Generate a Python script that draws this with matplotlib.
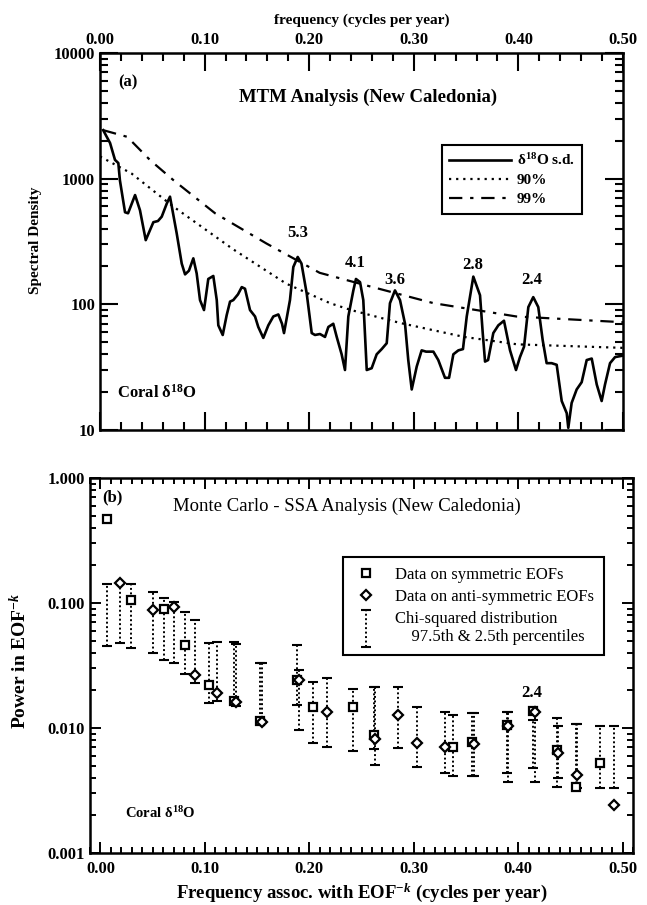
import numpy as np
import matplotlib
matplotlib.use('Agg')
import matplotlib.pyplot as plt
from matplotlib.ticker import MultipleLocator, FixedLocator, FixedFormatter, NullFormatter, LogLocator, FormatStrFormatter
from matplotlib.legend_handler import HandlerErrorbar
from matplotlib.container import ErrorbarContainer

plt.rcParams['font.family'] = ['Liberation Serif', 'DejaVu Serif']
plt.rcParams['mathtext.fontset'] = 'custom'
plt.rcParams['mathtext.rm'] = 'Liberation Serif'
plt.rcParams['mathtext.bf'] = 'Liberation Serif:bold'
plt.rcParams['mathtext.it'] = 'Liberation Serif:italic:bold'

# ---- panel (a): MTM spectrum
mtm_freq = [0.003, 0.0096, 0.0143, 0.0175, 0.019, 0.0239, 0.0268, 0.0335, 0.0382, 0.0437,
            0.051, 0.0554, 0.059, 0.0638, 0.0669, 0.0733, 0.0781, 0.0813, 0.085, 0.0892,
            0.0924, 0.0956, 0.0994, 0.1035, 0.1083, 0.1116, 0.1131, 0.1173, 0.1211, 0.1243,
            0.1274, 0.1319, 0.1355, 0.1386, 0.1434, 0.1482, 0.1513, 0.1561, 0.1609, 0.1657,
            0.1705, 0.174, 0.1759, 0.1816, 0.1848, 0.189, 0.1926, 0.1976, 0.2024, 0.2055,
            0.2103, 0.2151, 0.2183, 0.223, 0.2263, 0.231, 0.2342, 0.2374, 0.2422, 0.2447,
            0.2486, 0.2517, 0.255, 0.2597, 0.2645, 0.2693, 0.2741, 0.2772, 0.282, 0.2868,
            0.2916, 0.2947, 0.298, 0.3028, 0.3075, 0.3117, 0.3187, 0.3234, 0.3298, 0.3337,
            0.3378, 0.3426, 0.347, 0.3506, 0.3569, 0.3633, 0.3659, 0.3681, 0.371, 0.376,
            0.3808, 0.3862, 0.392, 0.3977, 0.4015, 0.4054, 0.4095, 0.4142, 0.419, 0.4232,
            0.427, 0.4318, 0.4366, 0.4414, 0.4462, 0.4477, 0.4509, 0.4557, 0.4605, 0.4653,
            0.4701, 0.4749, 0.4796, 0.4828, 0.4876, 0.4924, 0.4995]
mtm_power = [2430, 1920, 1410, 1330, 970, 540, 530, 740, 560, 324,
             450, 460, 498, 633, 718, 367, 211, 173, 185, 232,
             176, 108, 90, 159, 168, 108, 68, 57, 82, 105,
             108, 120, 137, 133, 90, 80, 66, 54, 68, 80,
             83, 70, 59, 108, 198, 238, 211, 122, 59, 57,
             58, 55, 66, 70, 55, 40, 30, 80, 129, 159,
             150, 108, 30, 31, 40, 44, 49, 102, 129, 108,
             70, 36, 21, 32, 43, 42, 42, 36, 26, 26,
             40, 43, 44, 80, 166, 118, 59, 35, 36, 59,
             68, 74, 43, 30, 38, 46, 95, 114, 95, 52,
             34, 34, 33, 17, 13.6, 10.4, 16.4, 21, 24, 36,
             37, 23, 17, 23, 34, 38, 39]

conf_freq = [0.0, 0.03, 0.07, 0.127, 0.178, 0.22, 0.24, 0.287, 0.348, 0.399, 0.5]
conf90 = [1500, 1100, 600, 275, 146, 102, 90, 71, 55, 48, 45]
conf99_freq = [0.003, 0.026, 0.048, 0.07, 0.11, 0.159, 0.21, 0.255, 0.319, 0.398, 0.5]
conf99 = [2430, 2150, 1400, 975, 530, 305, 178, 141, 102, 80, 72]

peak_labels = ['5.3', '4.1', '3.6', '2.8', '2.4']
peak_label_f = [0.189, 0.2438, 0.282, 0.3566, 0.413]
peak_label_y = [370, 212, 155, 205, 155]

# ---- panel (b): Monte Carlo SSA
sym_f = [0.006, 0.029, 0.061, 0.081, 0.104, 0.128, 0.153, 0.188, 0.204, 0.242,
         0.2615, 0.3375, 0.356, 0.389, 0.4146, 0.437, 0.4555, 0.478]
sym_p = [0.47, 0.106, 0.089, 0.046, 0.022, 0.0163, 0.0113, 0.024, 0.0148, 0.0147,
         0.0088, 0.0070, 0.0077, 0.0106, 0.0137, 0.0067, 0.0034, 0.0052]
sym_lo = [0.045, 0.044, 0.035, 0.027, 0.0157, 0.0155, 0.011, 0.0153, 0.0076, 0.0065,
          0.0068, 0.0041, 0.0041, 0.0044, 0.0048, 0.0034, 0.0033, 0.0033]
sym_hi = [0.141, 0.141, 0.109, 0.085, 0.048, 0.049, 0.033, 0.046, 0.0235, 0.0204,
          0.0214, 0.0127, 0.0131, 0.0135, 0.0116, 0.0121, 0.0108, 0.0104]

anti_f = [0.019, 0.0507, 0.0708, 0.0906, 0.112, 0.130, 0.155, 0.190, 0.217, 0.2625,
          0.2853, 0.303, 0.3295, 0.358, 0.390, 0.416, 0.438, 0.4565, 0.492]
anti_p = [0.144, 0.088, 0.0935, 0.0264, 0.0192, 0.0160, 0.0112, 0.0240, 0.0133, 0.0082,
          0.0127, 0.0076, 0.0070, 0.0075, 0.0104, 0.0135, 0.0063, 0.0042, 0.0024]
anti_lo = [0.048, 0.040, 0.033, 0.0227, 0.0163, 0.015, 0.011, 0.0096, 0.0071, 0.0051,
           0.0069, 0.0049, 0.0044, 0.0041, 0.0037, 0.0037, 0.0040, 0.0033, 0.0033]
anti_hi = [0.144, 0.123, 0.102, 0.073, 0.049, 0.047, 0.033, 0.029, 0.025, 0.0214,
           0.0214, 0.0148, 0.0133, 0.0131, 0.0135, 0.0135, 0.0104, 0.0108, 0.0103]

fig = plt.figure(figsize=(6.47, 9.05), dpi=100)
ax1 = fig.add_axes([0.1546, 0.5249, 0.8083, 0.4166])
ax2 = fig.add_axes([0.1391, 0.0575, 0.8393, 0.4144])

# ---------------- (a)
ax1.semilogy(mtm_freq, mtm_power, color='k', lw=1.9, label='δ$^{\\mathbf{18}}$O s.d.')
ax1.semilogy(conf_freq, conf90, color='k', lw=1.6, ls=(0, (1, 2.2)), label='90%')
ax1.semilogy(conf99_freq, conf99, color='k', lw=1.6, ls=(0, (6, 3.5, 1.5, 3.5)), label='99%')
ax1.set_xlim(0, 0.5)
ax1.set_ylim(10, 10000)
ax1.xaxis.set_major_locator(MultipleLocator(0.1))
ax1.xaxis.set_minor_locator(MultipleLocator(0.02))
ax1.xaxis.set_major_formatter(FormatStrFormatter('%.2f'))
ax1.yaxis.set_major_locator(FixedLocator([10, 100, 1000, 10000]))
ax1.yaxis.set_major_formatter(FixedFormatter(['10', '100', '1000', '10000']))
ax1.yaxis.set_minor_locator(LogLocator(subs=np.arange(2, 10)))
ax1.yaxis.set_minor_formatter(NullFormatter())
ax1.tick_params(which='both', direction='in', top=True, right=True, bottom=True, left=True,
                labeltop=True, labelbottom=False, width=1.5, labelsize=12)
ax1.tick_params(which='major', length=13)
ax1.tick_params(which='minor', length=6)
ax1.xaxis.set_label_position('top')
ax1.set_xlabel('frequency (cycles per year)', fontsize=11, fontweight='bold', labelpad=6)
ax1.set_ylabel('Spectral Density', fontsize=11, fontweight='bold')
ax1.yaxis.set_label_coords(-0.111, 0.504)
for lab in ax1.get_xticklabels() + ax1.get_yticklabels():
    lab.set_fontweight('bold')
for s in ax1.spines.values():
    s.set_linewidth(1.8)

for lab, f, y in zip(peak_labels, peak_label_f, peak_label_y):
    ax1.text(f, y, lab, ha='center', va='center', fontsize=12, fontweight='bold')
ax1.text(0.034, 0.923, '(a)', transform=ax1.transAxes, fontsize=12, fontweight='bold', va='center')
ax1.text(0.512, 0.883, 'MTM Analysis (New Caledonia)', transform=ax1.transAxes,
         fontsize=13.5, fontweight='bold', ha='center', va='center')
ax1.text(0.033, 0.10, 'Coral δ$^{\\mathbf{18}}$O', transform=ax1.transAxes,
         fontsize=12, fontweight='bold', va='center')
leg1 = ax1.legend(loc='upper right', bbox_to_anchor=(0.937, 0.777), handlelength=4.0,
                  handletextpad=0.4, fancybox=False, framealpha=1, edgecolor='k',
                  prop={'size': 11, 'weight': 'bold'}, borderpad=0.5, labelspacing=0.35)
leg1.get_frame().set_linewidth(1.5)

# ---------------- (b)
eb_sym = ax2.errorbar(sym_f, sym_lo, yerr=[np.zeros(len(sym_lo)), np.subtract(sym_hi, sym_lo)],
                      fmt='none', ecolor='k', elinewidth=1.4, capsize=3.5, capthick=1.5)
eb_anti = ax2.errorbar(anti_f, anti_lo, yerr=[np.zeros(len(anti_lo)), np.subtract(anti_hi, anti_lo)],
                       fmt='none', ecolor='k', elinewidth=1.4, capsize=3.5, capthick=1.5)
for eb in (eb_sym, eb_anti):
    eb.lines[2][0].set_linestyle((0, (1, 1.3)))
ax2.semilogy(sym_f, sym_p, ls='none', marker='s', ms=6, mfc='white', mec='k', mew=1.6)
ax2.semilogy(anti_f, anti_p, ls='none', marker='D', ms=5.5, mfc='white', mec='k', mew=1.6)
sq = ax2.plot([], [], ls='none', marker='s', ms=6, mfc='white', mec='k', mew=1.6)[0]
dm = ax2.plot([], [], ls='none', marker='D', ms=5.5, mfc='white', mec='k', mew=1.6)[0]

ax2.set_xlim(-0.01, 0.51)
ax2.set_ylim(0.001, 1.0)
ax2.xaxis.set_major_locator(MultipleLocator(0.1))
ax2.xaxis.set_minor_locator(MultipleLocator(0.01))
ax2.xaxis.set_major_formatter(FormatStrFormatter('%.2f'))
ax2.yaxis.set_major_locator(FixedLocator([0.001, 0.01, 0.1, 1.0]))
ax2.yaxis.set_major_formatter(FixedFormatter(['0.001', '0.010', '0.100', '1.000']))
ax2.yaxis.set_minor_locator(LogLocator(subs=np.arange(2, 10)))
ax2.yaxis.set_minor_formatter(NullFormatter())
ax2.tick_params(which='both', direction='in', top=True, right=True, width=1.4, labelsize=12)
ax2.tick_params(which='major', length=8)
ax2.tick_params(which='minor', length=4)
ax2.tick_params(axis='x', pad=6)
for lab in ax2.get_xticklabels() + ax2.get_yticklabels():
    lab.set_fontweight('bold')
for s in ax2.spines.values():
    s.set_linewidth(1.8)
ax2.set_xlabel('Frequency assoc. with EOF$^{\\mathbf{-}\\mathit{k}}$ (cycles per year)',
               fontsize=13.5, fontweight='bold', labelpad=3)
ax2.set_ylabel('Power in EOF$^{\\mathbf{-}\\mathit{k}}$', fontsize=14, fontweight='bold')
ax2.yaxis.set_label_coords(-0.11, 0.512)

ax2.text(0.022, 0.947, '(b)', transform=ax2.transAxes, fontsize=12, fontweight='bold', va='center')
ax2.text(0.473, 0.923, 'Monte Carlo - SSA Analysis (New Caledonia)', transform=ax2.transAxes,
         fontsize=13.5, ha='center', va='center')
ax2.text(0.413, 0.0191, '2.4', ha='center', va='center', fontsize=12, fontweight='bold')
ax2.text(0.064, 0.107, 'Coral δ$^{\\mathbf{18}}$O', transform=ax2.transAxes,
         fontsize=10.5, fontweight='bold', va='center')

leg2 = ax2.legend([sq, dm, eb_sym],
                  ['Data on symmetric EOFs', 'Data on anti-symmetric EOFs',
                   'Chi-squared distribution\n    97.5th & 2.5th percentiles'],
                  handler_map={ErrorbarContainer: HandlerErrorbar(xerr_size=0.3, yerr_size=1.1)},
                  loc='upper right', bbox_to_anchor=(0.961, 0.811), fancybox=False, framealpha=1,
                  edgecolor='k', fontsize=12, handlelength=1.6, handletextpad=0.9,
                  borderpad=0.6, labelspacing=0.35)
leg2.get_frame().set_linewidth(1.5)

fig.savefig('out.png', dpi=100, facecolor='white')
